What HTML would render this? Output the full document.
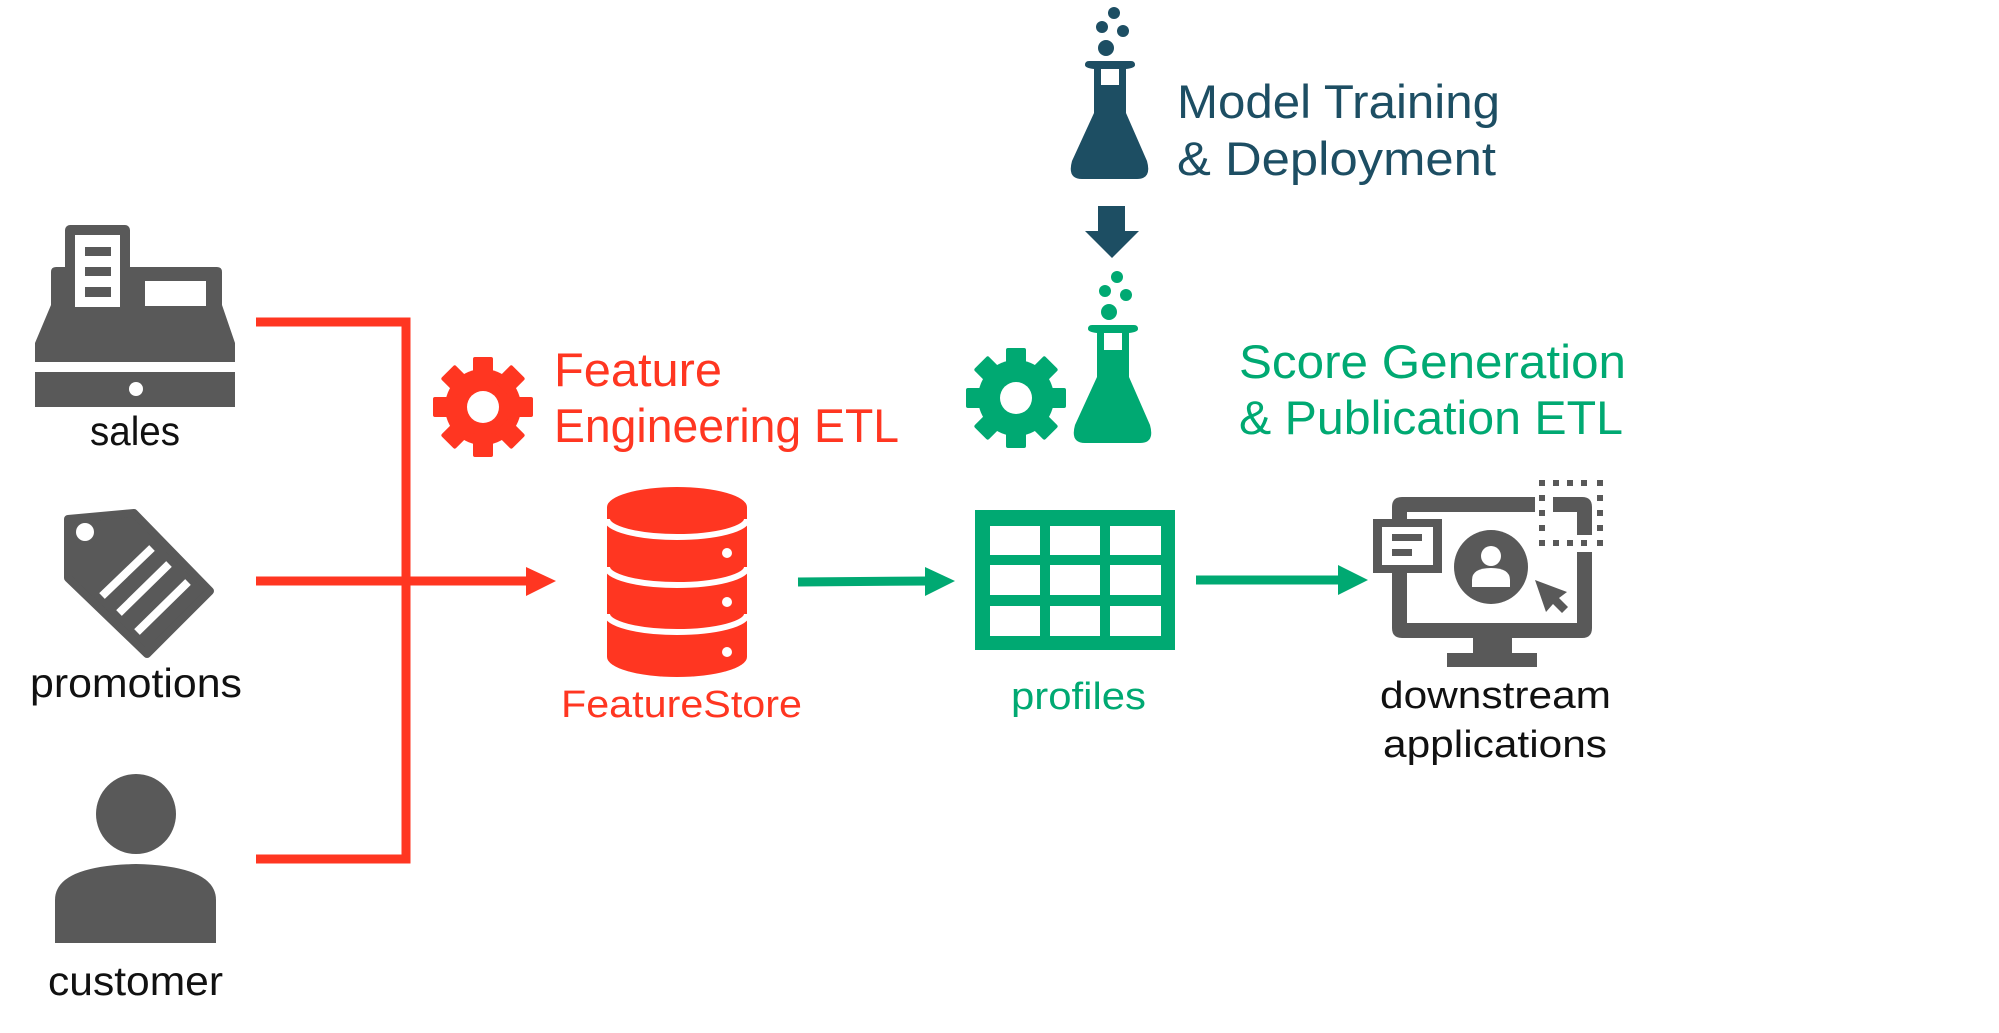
<!DOCTYPE html>
<html><head><meta charset="utf-8"><style>
html,body{margin:0;padding:0;background:#fff;}
svg{display:block;}
text{font-family:"Liberation Sans",sans-serif;}
</style></head><body>
<svg width="1999" height="1033" viewBox="0 0 1999 1033" xmlns="http://www.w3.org/2000/svg">
<defs>
<g id="gear">
  <circle cx="0" cy="0" r="38"/>
  <rect x="-10" y="-50" width="20" height="24" rx="2"/>
  <rect x="-10" y="-50" width="20" height="24" rx="2" transform="rotate(45)"/>
  <rect x="-10" y="-50" width="20" height="24" rx="2" transform="rotate(90)"/>
  <rect x="-10" y="-50" width="20" height="24" rx="2" transform="rotate(135)"/>
  <rect x="-10" y="-50" width="20" height="24" rx="2" transform="rotate(180)"/>
  <rect x="-10" y="-50" width="20" height="24" rx="2" transform="rotate(225)"/>
  <rect x="-10" y="-50" width="20" height="24" rx="2" transform="rotate(270)"/>
  <rect x="-10" y="-50" width="20" height="24" rx="2" transform="rotate(315)"/>
</g>
<g id="flask">
  <circle cx="1117" cy="277" r="6"/>
  <circle cx="1105" cy="291" r="6"/>
  <circle cx="1126" cy="295" r="6"/>
  <circle cx="1109" cy="312" r="8"/>
  <path d="M1092,325 H1134 Q1138,325 1138,329 Q1138,332 1129,333 V377 L1150,425 Q1155,443 1140,443 H1085 Q1070,443 1075,425 L1097,377 V333 Q1088,332 1088,329 Q1088,325 1092,325 Z"/>
</g>
</defs>

<!-- Sales register -->
<g fill="#595959">
  <rect x="65" y="225" width="65" height="90" rx="5"/>
  <path d="M51,272 Q51,267 56,267 H217 Q222,267 222,272 V305 L235,343 V362 H35 V343 L51,305 Z"/>
  <rect x="35" y="372" width="200" height="35"/>
</g>
<rect x="75" y="235" width="45" height="72" fill="#fff"/>
<g fill="#595959">
  <rect x="85" y="247" width="26" height="9"/>
  <rect x="85" y="267" width="26" height="9"/>
  <rect x="85" y="287" width="26" height="10"/>
</g>
<rect x="145" y="281" width="61" height="25" fill="#fff"/>
<circle cx="136" cy="389" r="7" fill="#fff"/>
<text x="90" y="445" font-size="41" fill="#111" textLength="90" lengthAdjust="spacingAndGlyphs">sales</text>

<!-- Tag -->
<polygon points="68,519 134,513 210,591 147,654 68,578" fill="#595959" stroke="#595959" stroke-width="8" stroke-linejoin="round"/>
<circle cx="85" cy="532" r="9" fill="#fff"/>
<g stroke="#fff" stroke-width="8">
  <line x1="152" y1="548" x2="102" y2="596"/>
  <line x1="169" y1="564" x2="119" y2="613"/>
  <line x1="188" y1="582" x2="137" y2="632"/>
</g>
<text x="30" y="697" font-size="41" fill="#111" textLength="212" lengthAdjust="spacingAndGlyphs">promotions</text>

<!-- Customer -->
<ellipse cx="136" cy="814" rx="40" ry="40" fill="#595959"/>
<path d="M55,943 V900 Q55,866 136,864 Q216,866 216,900 V943 Z" fill="#595959"/>
<text x="48" y="995" font-size="41" fill="#111" textLength="175" lengthAdjust="spacingAndGlyphs">customer</text>

<!-- Red bracket -->
<g stroke="#ff3621" stroke-width="9" fill="none">
  <polyline points="256,322 406,322 406,859 256,859"/>
  <line x1="256" y1="581" x2="530" y2="581"/>
</g>
<polygon points="526,567 556,581 526,596" fill="#ff3621"/>

<!-- Red gear -->
<g fill="#ff3621" transform="translate(483,407)"><use href="#gear"/></g>
<circle cx="483" cy="407" r="16" fill="#fff"/>
<text x="554" y="386" font-size="47" fill="#ff3621" textLength="168" lengthAdjust="spacingAndGlyphs">Feature</text>
<text x="554" y="442" font-size="47" fill="#ff3621" textLength="345" lengthAdjust="spacingAndGlyphs">Engineering ETL</text>

<!-- Database -->
<path d="M607,507 A70,20 0 0 1 747,507 V657 A70,20 0 0 1 607,657 Z" fill="#ff3621"/>
<g stroke="#fff" stroke-width="6" fill="none">
  <path d="M607,519 A70,18 0 0 0 747,519"/>
  <path d="M607,567 A70,18 0 0 0 747,567"/>
  <path d="M607,614 A70,18 0 0 0 747,614"/>
</g>
<g fill="#fff">
  <circle cx="727" cy="553" r="5"/>
  <circle cx="727" cy="602" r="5"/>
  <circle cx="727" cy="652" r="5"/>
</g>
<text x="561" y="717" font-size="38" fill="#ff3621" textLength="241" lengthAdjust="spacingAndGlyphs">FeatureStore</text>

<!-- Green arrow 1 -->
<line x1="798" y1="582" x2="930" y2="581" stroke="#00a972" stroke-width="9"/>
<polygon points="925,567 955,581 925,596" fill="#00a972"/>

<!-- Dark flask -->
<g fill="#1d4e63" transform="translate(-3,-264)"><use href="#flask"/></g>
<rect x="1101" y="69" width="18" height="16" fill="#fff"/>
<text x="1177" y="118" font-size="47" fill="#1d4e63" textLength="323" lengthAdjust="spacingAndGlyphs">Model Training</text>
<text x="1177" y="175" font-size="47" fill="#1d4e63" textLength="319" lengthAdjust="spacingAndGlyphs">&amp; Deployment</text>
<!-- down arrow -->
<rect x="1098" y="206" width="27" height="28" fill="#1d4e63"/>
<polygon points="1085,231 1139,231 1112,258" fill="#1d4e63"/>

<!-- Green flask & gear -->
<g fill="#00a972"><use href="#flask"/></g>
<rect x="1104" y="333" width="18" height="17" fill="#fff"/>
<g fill="#00a972" transform="translate(1016,398)"><use href="#gear"/></g>
<circle cx="1016" cy="398" r="16" fill="#fff"/>
<text x="1239" y="378" font-size="47" fill="#00a972" textLength="387" lengthAdjust="spacingAndGlyphs">Score Generation</text>
<text x="1239" y="434" font-size="47" fill="#00a972" textLength="384" lengthAdjust="spacingAndGlyphs">&amp; Publication ETL</text>

<!-- Table -->
<rect x="975" y="510" width="200" height="140" fill="#00a972"/>
<g fill="#fff">
  <rect x="990" y="526" width="50" height="29"/><rect x="1050" y="526" width="50" height="29"/><rect x="1110" y="526" width="51" height="29"/>
  <rect x="990" y="565" width="50" height="30"/><rect x="1050" y="565" width="50" height="30"/><rect x="1110" y="565" width="51" height="30"/>
  <rect x="990" y="606" width="50" height="30"/><rect x="1050" y="606" width="50" height="30"/><rect x="1110" y="606" width="51" height="30"/>
</g>
<text x="1011" y="709" font-size="38" fill="#00a972" textLength="135" lengthAdjust="spacingAndGlyphs">profiles</text>

<!-- Green arrow 2 -->
<line x1="1196" y1="580" x2="1342" y2="580" stroke="#00a972" stroke-width="9"/>
<polygon points="1338,565 1368,580 1338,595" fill="#00a972"/>

<!-- Monitor -->
<g fill="#595959">
  <path d="M1392,507 Q1392,497 1402,497 H1535 V512 H1407 V583 H1392 Z"/>
  <path d="M1553,497 H1582 Q1592,497 1592,507 V535 H1577 V512 H1553 Z"/>
  <path d="M1577,552 H1592 V628 Q1592,638 1582,638 H1402 Q1392,638 1392,628 V583 H1407 V623 H1577 Z"/>
  <rect x="1473" y="637" width="39" height="17"/>
  <rect x="1447" y="653" width="90" height="14"/>
  <rect x="1539" y="480" width="6" height="6"/><rect x="1553" y="480" width="6" height="6"/><rect x="1567" y="480" width="6" height="6"/><rect x="1581" y="480" width="6" height="6"/><rect x="1597" y="480" width="6" height="6"/>
  <rect x="1539" y="540" width="6" height="6"/><rect x="1553" y="540" width="6" height="6"/><rect x="1567" y="540" width="6" height="6"/><rect x="1581" y="540" width="6" height="6"/><rect x="1597" y="540" width="6" height="6"/>
  <rect x="1539" y="495" width="6" height="6"/><rect x="1539" y="510" width="6" height="6"/><rect x="1539" y="525" width="6" height="6"/>
  <rect x="1597" y="495" width="6" height="6"/><rect x="1597" y="510" width="6" height="6"/><rect x="1597" y="525" width="6" height="6"/>
  <rect x="1373" y="519" width="69" height="54"/>
</g>
<rect x="1382" y="527" width="51" height="38" fill="#fff"/>
<g fill="#595959">
  <rect x="1392" y="534" width="30" height="7"/>
  <rect x="1392" y="549" width="20" height="7"/>
  <circle cx="1491" cy="567" r="37"/>
  <polygon points="1535,580 1567,592 1559,598 1568,607 1562,613 1553,604 1546,612"/>
</g>
<circle cx="1491" cy="556" r="10" fill="#fff"/>
<path d="M1472,587 V580 Q1472,568 1491,568 Q1510,568 1510,580 V587 Z" fill="#fff"/>
<text x="1380" y="708" font-size="38" fill="#111" textLength="231" lengthAdjust="spacingAndGlyphs">downstream</text>
<text x="1383" y="757" font-size="38" fill="#111" textLength="224" lengthAdjust="spacingAndGlyphs">applications</text>
</svg>
</body></html>
